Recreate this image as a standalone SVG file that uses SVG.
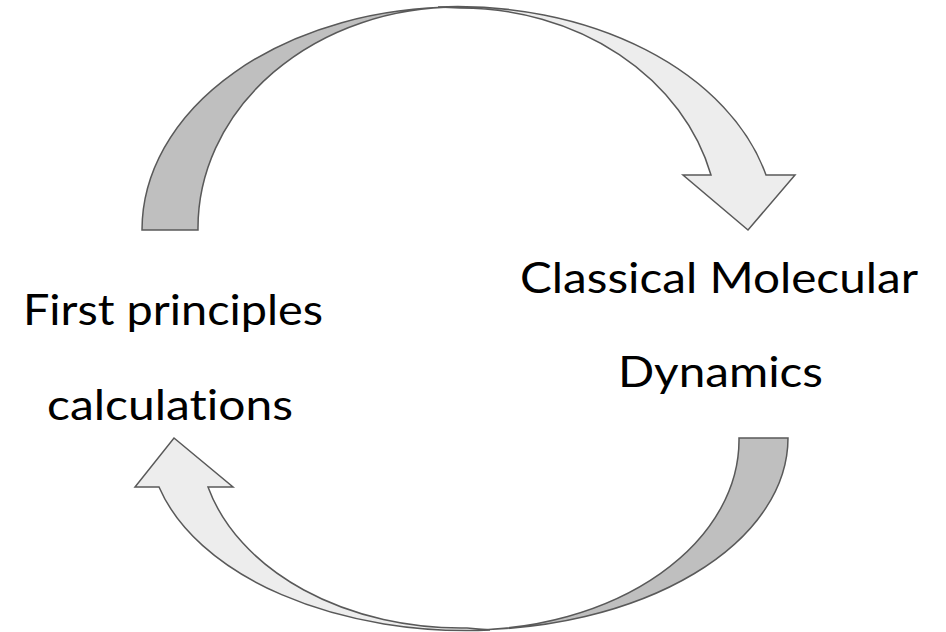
<svg xmlns="http://www.w3.org/2000/svg" width="946" height="632" viewBox="0 0 946 632">
<style>
.dark{fill:#bfbfbf;stroke:#595959;stroke-width:1.5;stroke-linejoin:miter}
.light{fill:#ededed;stroke:#595959;stroke-width:1.5;stroke-linejoin:miter}
.lbl{font-family:Lato,"Open Sans","Liberation Sans",sans-serif;font-size:43px;fill:#000;font-variant-ligatures:none;font-feature-settings:"liga" 0,"clig" 0,"dlig" 0}
</style>
<rect width="946" height="632" fill="#fff"/>
<g id="connectors">
<g id="arrow-top">
<path class="dark" d="M142,230 A316,223 0 0 1 458,7 A260,221 0 0 0 198,230 Z"/>
<path class="light" d="M438,7 A318,222 0 0 1 766,175 L795,175 L748,230 L683,175 L711,175 A258,220 0 0 0 460,8 Z"/>
</g>
<g id="arrow-bottom">
<path class="dark" d="M788,438 A321,192 0 0 1 467,630 A272,190 0 0 0 739,438 Z"/>
<path class="light" d="M490,630 A318,192 0 0 1 159,487 L135,487 L174,438 L233,487 L208,487 A262,190 0 0 0 467,628 Z"/>
</g>
</g>
<g id="node-first">
<text class="lbl" x="23" y="325" textLength="300" lengthAdjust="spacingAndGlyphs">First principles</text>
<text class="lbl" x="47" y="420" textLength="246" lengthAdjust="spacingAndGlyphs">calculations</text>
</g>
<g id="node-classical">
<text class="lbl" x="520" y="293" textLength="398" lengthAdjust="spacingAndGlyphs">Classical Molecular</text>
<text class="lbl" x="618" y="387" textLength="205" lengthAdjust="spacingAndGlyphs">Dynamics</text>
</g>
</svg>
